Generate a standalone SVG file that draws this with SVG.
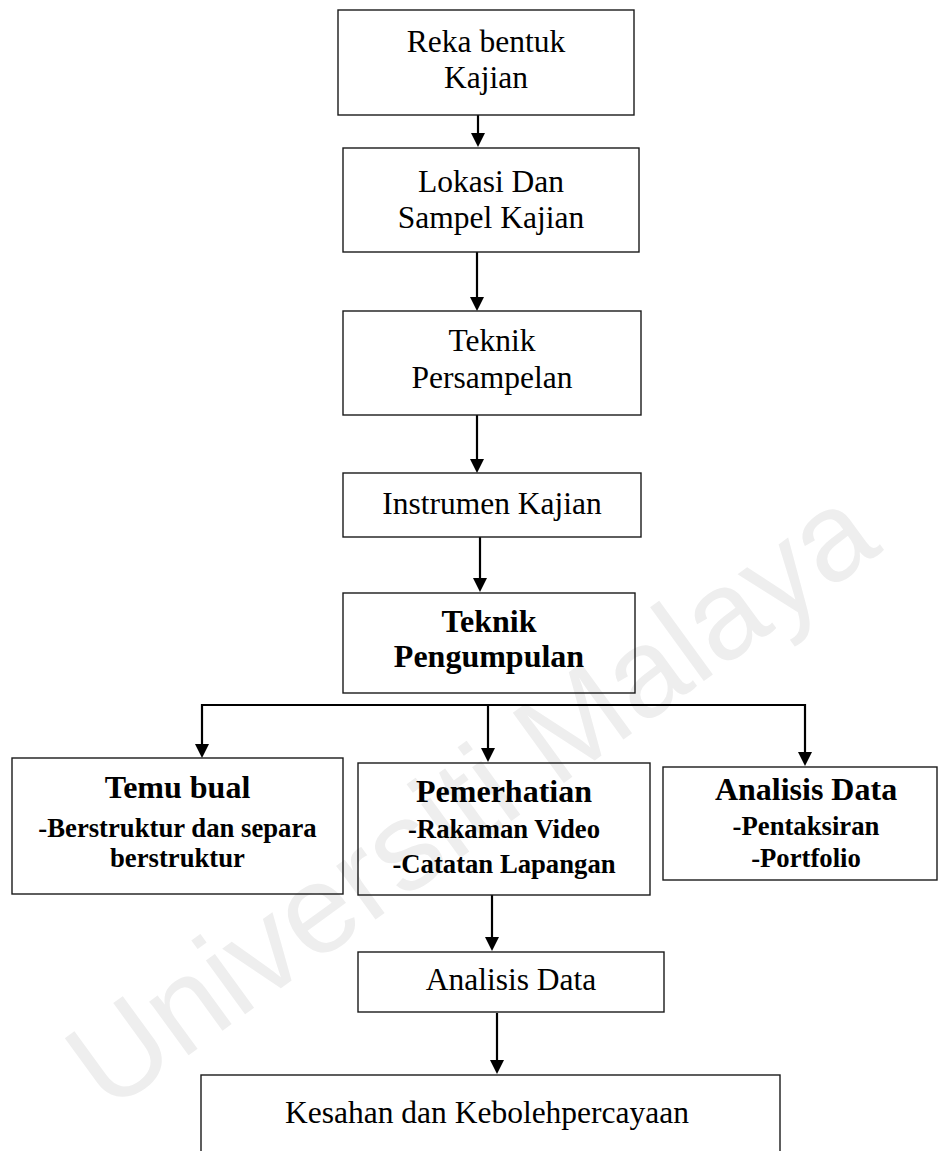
<svg xmlns="http://www.w3.org/2000/svg" width="939" height="1151" viewBox="0 0 939 1151">
<style>
.bg{fill:#ffffff}
.box{fill:none;stroke:#1a1a1a;stroke-width:1.4}
.t{font-family:"Liberation Serif","Times New Roman",serif;font-size:31.5px;fill:#000;text-anchor:middle}
.tb{font-family:"Liberation Serif","Times New Roman",serif;font-size:32px;font-weight:bold;fill:#000;text-anchor:middle}
.ts{font-family:"Liberation Serif","Times New Roman",serif;font-size:26.7px;font-weight:bold;fill:#000;text-anchor:middle}
.wm{font-family:"Liberation Sans",Arial,sans-serif;font-size:126px;fill:#eeeeee}
.c{fill:none;stroke:#000;stroke-width:2.2}
</style>
<defs>
<marker id="ah" viewBox="0 0 14 14" markerWidth="14" markerHeight="14" markerUnits="userSpaceOnUse" refX="2" refY="7" orient="auto">
<path d="M0,0 L14,7 L0,14 z" fill="#000"/>
</marker>
</defs>
<rect class="bg" x="0" y="0" width="939" height="1151"/>
<text class="wm" x="108" y="1114" transform="rotate(-36 108 1114)">Universiti Malaya</text>

<g id="connectors">
<line class="c" x1="478" y1="115" x2="478" y2="135" marker-end="url(#ah)"/>
<line class="c" x1="477" y1="252" x2="477" y2="299" marker-end="url(#ah)"/>
<line class="c" x1="477" y1="415" x2="477" y2="461" marker-end="url(#ah)"/>
<line class="c" x1="480" y1="537" x2="480" y2="580" marker-end="url(#ah)"/>
<line class="c" x1="201" y1="705" x2="806" y2="705"/>
<line class="c" x1="202" y1="704" x2="202" y2="746" marker-end="url(#ah)"/>
<line class="c" x1="488" y1="704" x2="488" y2="750" marker-end="url(#ah)"/>
<line class="c" x1="805" y1="704" x2="805" y2="754" marker-end="url(#ah)"/>
<line class="c" x1="492" y1="895" x2="492" y2="939" marker-end="url(#ah)"/>
<line class="c" x1="497" y1="1013" x2="497" y2="1062" marker-end="url(#ah)"/>
</g>

<g id="n1">
<rect class="box" x="338" y="10" width="296" height="105"/>
<text class="t" x="486" y="52">Reka bentuk</text>
<text class="t" x="486" y="88">Kajian</text>
</g>
<g id="n2">
<rect class="box" x="343" y="148" width="296" height="104"/>
<text class="t" x="491" y="192">Lokasi Dan</text>
<text class="t" x="491" y="228">Sampel Kajian</text>
</g>
<g id="n3">
<rect class="box" x="343" y="311" width="298" height="104"/>
<text class="t" x="492" y="351">Teknik</text>
<text class="t" x="492" y="388">Persampelan</text>
</g>
<g id="n4">
<rect class="box" x="343" y="473" width="298" height="64"/>
<text class="t" x="492" y="514">Instrumen Kajian</text>
</g>
<g id="n5">
<rect class="box" x="343" y="593" width="292" height="100"/>
<text class="tb" x="489" y="632">Teknik</text>
<text class="tb" x="489" y="667">Pengumpulan</text>
</g>
<g id="n6">
<rect class="box" x="12" y="758" width="331" height="136"/>
<text class="tb" x="177.5" y="798">Temu bual</text>
<text class="ts" x="177.5" y="837">-Berstruktur dan separa</text>
<text class="ts" x="177.5" y="867">berstruktur</text>
</g>
<g id="n7">
<rect class="box" x="358" y="763" width="292" height="132"/>
<text class="tb" x="504" y="802">Pemerhatian</text>
<text class="ts" x="504" y="838">-Rakaman Video</text>
<text class="ts" x="504" y="873">-Catatan Lapangan</text>
</g>
<g id="n8">
<rect class="box" x="663" y="767" width="274" height="113"/>
<text class="tb" x="806" y="800">Analisis Data</text>
<text class="ts" x="806" y="835">-Pentaksiran</text>
<text class="ts" x="806" y="867">-Portfolio</text>
</g>
<g id="n9">
<rect class="box" x="358" y="952" width="306" height="60"/>
<text class="t" x="511" y="990">Analisis Data</text>
</g>
<g id="n10">
<rect class="box" x="201" y="1075" width="579" height="90"/>
<text class="t" x="487" y="1123">Kesahan dan Kebolehpercayaan</text>
</g>
</svg>
